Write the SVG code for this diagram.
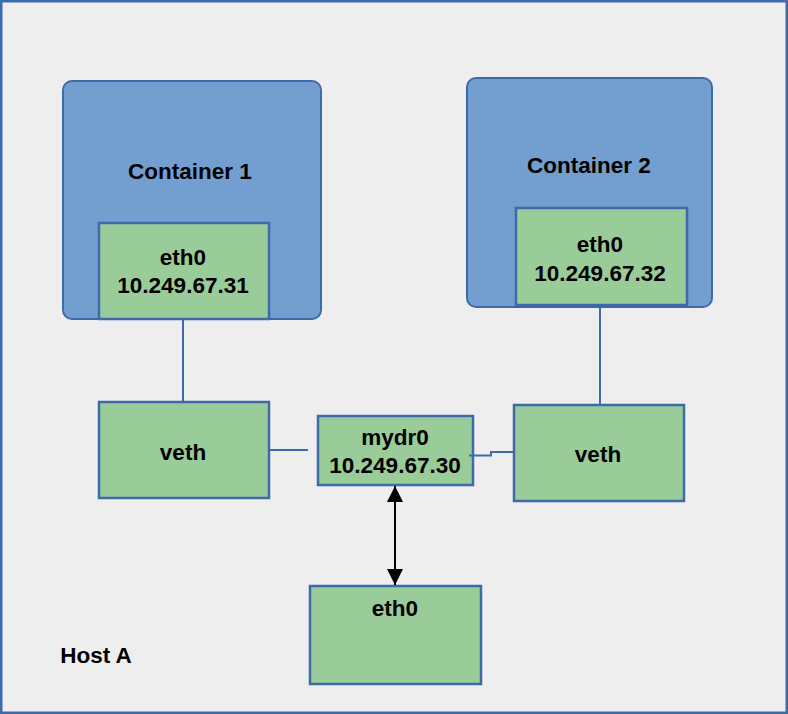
<svg xmlns="http://www.w3.org/2000/svg" width="788" height="714" viewBox="0 0 788 714">
<defs>
<style>
.frame{fill:#eeeeee;stroke:#3f6aa9;stroke-width:2.5}
.cont{fill:#729fcf;stroke:#3f6aa9;stroke-width:2}
.box{fill:#9acc99;stroke:#3f6aa9;stroke-width:2.5}
.t{font-family:"Liberation Sans",Arial,sans-serif;font-weight:bold;font-size:22.5px;fill:#000;text-anchor:middle}
.ln{stroke:#3f6aa9;stroke-width:2;fill:none}
.arr{stroke:#000;stroke-width:2;fill:none}
</style>
<marker id="ah" viewBox="0 0 10 10" refX="10" refY="5" markerWidth="16" markerHeight="16" markerUnits="userSpaceOnUse" orient="auto-start-reverse">
<path d="M0,0 L10,5 L0,10 Z" fill="#000"/>
</marker>
</defs>
<g id="host">
<rect class="frame" x="1.25" y="1.25" width="785.5" height="711.5"/>
<text class="t" x="96" y="663">Host A</text>
</g>
<g id="container1">
<rect class="cont" x="63" y="81" width="258" height="238" rx="9"/>
<text class="t" x="190" y="179">Container 1</text>
</g>
<g id="c1-eth0">
<rect class="box" x="99" y="223" width="170" height="96"/>
<text class="t" x="183" y="265">eth0</text>
<text class="t" x="183" y="293">10.249.67.31</text>
</g>
<g id="container2">
<rect class="cont" x="467" y="78" width="245" height="229" rx="9"/>
<text class="t" x="589" y="173">Container 2</text>
</g>
<g id="c2-eth0">
<rect class="box" x="516" y="208" width="171" height="97"/>
<text class="t" x="600" y="252">eth0</text>
<text class="t" x="600" y="281">10.249.67.32</text>
</g>
<g id="veth1">
<rect class="box" x="99" y="402" width="170" height="96"/>
<text class="t" x="183" y="460">veth</text>
</g>
<g id="veth2">
<rect class="box" x="514" y="405" width="170" height="96"/>
<text class="t" x="598" y="462">veth</text>
</g>
<g id="mydr0">
<rect class="box" x="318" y="416" width="155" height="69"/>
<text class="t" x="395" y="445">mydr0</text>
<text class="t" x="395" y="473">10.249.67.30</text>
</g>
<g id="host-eth0">
<rect class="box" x="310" y="586" width="171" height="98"/>
<text class="t" x="395" y="616">eth0</text>
</g>
<g id="connectors">
<line class="ln" x1="183" y1="319" x2="183" y2="402"/>
<line class="ln" x1="600" y1="305" x2="600" y2="405"/>
<line class="ln" x1="269" y1="450" x2="308" y2="450"/>
<polyline class="ln" points="469,455.5 491,455.5 491,452 514,452"/>
<line class="arr" x1="395" y1="486" x2="395" y2="585" marker-start="url(#ah)" marker-end="url(#ah)"/>
</g>
</svg>
